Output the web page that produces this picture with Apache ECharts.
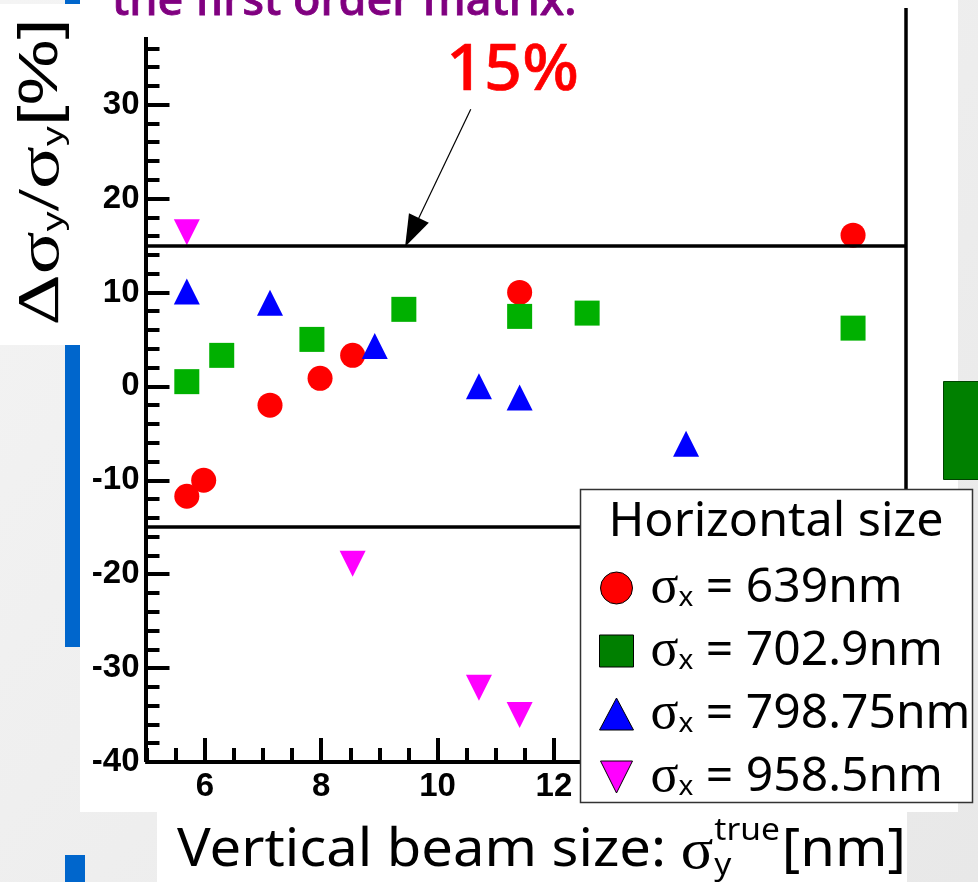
<!DOCTYPE html>
<html>
<head>
<meta charset="utf-8">
<script src="https://cdn.jsdelivr.net/npm/echarts@6/dist/echarts.min.js"></script>
<style>
  html, body { margin: 0; padding: 0; background: #eeeeee; }
  #chart { width: 978px; height: 882px; }
</style>
</head>
<body>
<div id="chart"></div>
<script>
// Axis ranges and tick labels
const xRange = [4.98, 18.05];
const yRange = [-40, 37.2];
const xMajorTicks = [6, 8, 10, 12, 14, 16, 18];
const yMajorTicks = [-40, -30, -20, -10, 0, 10, 20, 30];
const xMinorStep = 0.5;
const yMinorStep = 2;

// Relative error of the reconstructed vertical size, [sigma_y true (nm), delta (%)]
const sigmaX639 = [[5.69, -11.7], [5.98, -10.0], [7.12, -2.0], [7.98, 0.85], [8.54, 3.3], [11.41, 10.0], [17.14, 16.1]];
const sigmaX702 = [[5.69, 0.5], [6.29, 3.3], [7.84, 5.0], [9.42, 8.2], [11.41, 7.45], [12.57, 7.8], [17.14, 6.2]];
const sigmaX798 = [[5.69, 10.1], [7.12, 8.9], [8.92, 4.3], [10.71, 0.0], [11.41, -1.2], [14.27, -6.1]];
const sigmaX958 = [[5.69, 16.4], [8.54, -18.9], [10.71, -32.1], [11.41, -35.0]];

const seriesLabels = ['639nm', '702.9nm', '798.75nm', '958.5nm'];
const tolerance = 15;          // +/- band in percent
const arrowFrom = [10.57, 29.5];
const arrowTo = [9.56, 16.4];

const plotColors = ['#ff0000', '#00b000', '#0000ff', '#ff00ff'];
const legendColors = ['#ff0000', '#007f00', '#0000ff', '#ff00ff'];
const downTriangle = 'path://M0,0 L20,0 L10,20 Z';
const symbols = ['circle', 'rect', 'triangle', downTriangle];
const symbolSizes = [25, 25, 26, 26];

function stepList(from, to, step) {
  const out = [];
  for (let v = from; v <= to + 1e-9; v += step) out.push(Math.round(v * 100) / 100);
  return out;
}
const xMinorTicks = stepList(5, 18, xMinorStep);
const yMinorTicks = stepList(-40, 36, yMinorStep);

const chart = echarts.init(document.getElementById('chart'), null, { renderer: 'canvas' });

const names = seriesLabels.map(s => 'σx = ' + s);
const dataSets = [sigmaX639, sigmaX702, sigmaX798, sigmaX958];

function axisFont() {
  return { color: '#000', fontFamily: 'Liberation Sans', fontWeight: 'bold', fontSize: 33 };
}
function blackLine(w) { return { color: '#000', width: w, type: 'solid', cap: 'butt' }; }

function measure(text, font) {
  const c = document.createElement('canvas').getContext('2d');
  c.font = font;
  return c.measureText(text).width;
}

const series = dataSets.map((d, i) => ({
  name: names[i],
  type: 'scatter',
  data: d,
  symbol: symbols[i],
  symbolSize: symbolSizes[i],
  itemStyle: { color: plotColors[i], opacity: 1 },
  z: 3,
  animation: false
}));

// Band limits and the pointer to the upper limit
series.push({
  type: 'scatter',
  data: [],
  silent: true,
  animation: false,
  markLine: {
    silent: true,
    animation: false,
    symbol: 'none',
    label: { show: false },
    lineStyle: { color: '#000', width: 3.5, type: 'solid' },
    data: [
      { yAxis: tolerance },
      { yAxis: -tolerance },
      [
        { coord: arrowFrom, symbol: 'none', lineStyle: { width: 1.2, color: '#000', type: 'solid' } },
        { coord: arrowTo, symbol: 'path://M10,0 L20,30 L0,30 Z', symbolSize: [22, 32] }
      ]
    ]
  }
});

// Text pieces for the x-axis title (slightly widened lettering)
const xtScale = 1.08;
const xtMainFont = '52px "Noto Sans"';
const xtSigFont = '56px "Liberation Serif"';
const xtSmallFont = '31px "Noto Sans"';
const xt0 = 177;
const xtMain = 'Vertical beam size: ';
const xtSigX = xt0 + measure(xtMain, xtMainFont) * xtScale;
const xtSubX = xtSigX + measure('σ', xtSigFont) * xtScale + 1;
const xtTailX = xtSubX + Math.max(measure('true', xtSmallFont), measure('y', xtSmallFont)) * xtScale + 2;

const graphics = [
  // slide background pieces
  { type: 'rect', z: -10, silent: true, shape: { x: 0, y: 0, width: 978, height: 882 },
    style: { fill: new echarts.graphic.LinearGradient(0, 0, 1, 1, [{ offset: 0, color: '#f4f4f4' }, { offset: 1, color: '#e8e8e8' }]) } },
  { type: 'rect', z: -9, silent: true, shape: { x: 80, y: 0, width: 878, height: 812 }, style: { fill: '#ffffff' } },
  { type: 'rect', z: -9, silent: true, shape: { x: 0, y: 4, width: 80, height: 341 }, style: { fill: '#ffffff' } },
  { type: 'rect', z: -9, silent: true, shape: { x: 157, y: 812, width: 750, height: 70 }, style: { fill: '#ffffff' } },
  { type: 'rect', z: -8, silent: true, shape: { x: 65, y: 0, width: 15, height: 4 }, style: { fill: '#0066cc' } },
  { type: 'rect', z: -8, silent: true, shape: { x: 65, y: 345, width: 15, height: 302 }, style: { fill: '#0066cc' } },
  { type: 'rect', z: -8, silent: true, shape: { x: 65, y: 855, width: 20, height: 27 }, style: { fill: '#0066cc' } },
  { type: 'rect', z: -8, silent: true, shape: { x: 943.5, y: 381.5, width: 40, height: 98 }, style: { fill: '#008000', stroke: '#004400', lineWidth: 1 } },

  // slide heading, running off the top edge
  { type: 'text', z: 5, silent: true, x: 112, y: 2,
    style: { text: 'the first order matrix.', fill: '#800080', font: '500 45px "Noto Sans"', verticalAlign: 'middle', stroke: '#800080', lineWidth: 0.8 } },

  // band label
  { type: 'text', z: 5, silent: true, x: 446, y: 72, scaleX: 1.04,
    style: { text: '15%', fill: '#ff0000', font: '500 64px "Noto Sans"', verticalAlign: 'middle', stroke: '#ff0000', lineWidth: 0.6 } },

  // y-axis title
  { type: 'text', z: 5, silent: true, x: 42, y: 172, rotation: Math.PI / 2, scaleX: 1.33,
    style: {
      text: '{d|Δσ}{s|y}{d|/σ}{s|y}{b|[%]}',
      align: 'center', verticalAlign: 'middle', fill: '#000',
      rich: {
        d: { fontFamily: 'Liberation Serif', fontSize: 60, lineHeight: 64, fill: '#000' },
        b: { fontFamily: 'Liberation Sans', fontSize: 56, lineHeight: 64, fill: '#000' },
        s: { fontFamily: 'Liberation Sans', fontSize: 30, lineHeight: 30, padding: [26, 0, 0, 0], fill: '#000' }
      }
    } },

  // x-axis title
  { type: 'text', z: 5, silent: true, x: xt0, y: 851, scaleX: xtScale,
    style: { text: xtMain, fill: '#000', font: xtMainFont, verticalAlign: 'middle' } },
  { type: 'text', z: 5, silent: true, x: xtSigX, y: 853, scaleX: xtScale,
    style: { text: 'σ', fill: '#000', font: xtSigFont, verticalAlign: 'middle' } },
  { type: 'text', z: 5, silent: true, x: xtSubX, y: 866, scaleX: xtScale,
    style: { text: 'y', fill: '#000', font: xtSmallFont, verticalAlign: 'middle' } },
  { type: 'text', z: 5, silent: true, x: xtSubX, y: 831, scaleX: xtScale,
    style: { text: 'true', fill: '#000', font: xtSmallFont, verticalAlign: 'middle' } },
  { type: 'text', z: 5, silent: true, x: xtTailX, y: 851, scaleX: xtScale,
    style: { text: '[nm]', fill: '#000', font: xtMainFont, verticalAlign: 'middle' } },

  // legend frame and heading
  { type: 'rect', z: 50, silent: true, shape: { x: 580.5, y: 489.5, width: 392, height: 313 },
    style: { fill: '#ffffff', stroke: '#333333', lineWidth: 1.5 } },
  { type: 'text', z: 51, silent: true, x: 776, y: 523, scaleX: 1.03,
    style: { text: 'Horizontal size', fill: '#000', font: '47px "Noto Sans"', align: 'center', verticalAlign: 'middle' } }
];

const option = {
  backgroundColor: 'transparent',
  animation: false,
  grid: { left: 145.5, right: 72, top: 37, bottom: 120, containLabel: false },
  xAxis: [
    {
      type: 'value', min: xRange[0], max: xRange[1], position: 'bottom',
      axisLine: { show: true, onZero: false, lineStyle: blackLine(4) },
      axisTick: { show: true, inside: true, length: 24, lineStyle: blackLine(4), customValues: xMajorTicks },
      axisLabel: Object.assign({ show: true, margin: 8, customValues: xMajorTicks }, axisFont()),
      splitLine: { show: false }
    },
    {
      type: 'value', min: xRange[0], max: xRange[1], position: 'bottom',
      axisLine: { show: false, onZero: false },
      axisTick: { show: true, inside: true, length: 14, lineStyle: blackLine(4), customValues: xMinorTicks },
      axisLabel: { show: false },
      splitLine: { show: false }
    }
  ],
  yAxis: [
    {
      type: 'value', min: yRange[0], max: yRange[1], position: 'left',
      axisLine: { show: true, onZero: false, lineStyle: blackLine(4) },
      axisTick: { show: true, inside: true, length: 24, lineStyle: blackLine(4), customValues: yMajorTicks },
      axisLabel: Object.assign({ show: true, margin: 6, customValues: yMajorTicks }, axisFont()),
      splitLine: { show: false }
    },
    {
      type: 'value', min: yRange[0], max: yRange[1], position: 'left',
      axisLine: { show: false, onZero: false },
      axisTick: { show: true, inside: true, length: 14, lineStyle: blackLine(4), customValues: yMinorTicks },
      axisLabel: { show: false },
      splitLine: { show: false }
    }
  ],
  legend: {
    show: true,
    orient: 'vertical',
    left: 594,
    top: 557,
    z: 60,
    selectedMode: false,
    itemWidth: 34,
    itemHeight: 32,
    itemGap: 11,
    data: names.map((n, i) => ({
      name: n,
      icon: symbols[i],
      itemStyle: { color: legendColors[i], borderColor: '#000', borderWidth: 1 }
    })),
    formatter: n => '{g|σ}{sub|x}{t| = ' + n.slice(5) + '}',
    textStyle: {
      rich: {
        g: { fontFamily: 'Liberation Serif', fontSize: 52, lineHeight: 56, padding: [0, 0, 0, 12], color: '#000' },
        sub: { fontFamily: 'Noto Sans', fontSize: 28, lineHeight: 28, padding: [20, 0, 0, 0], color: '#000' },
        t: { fontFamily: 'Noto Sans', fontSize: 48, lineHeight: 56, color: '#000' }
      }
    }
  },
  graphic: graphics,
  series: series
};

chart.setOption(option);

// Right frame line, which runs up above the plotting area
const frameX = chart.convertToPixel({ xAxisIndex: 0 }, xRange[1]);
chart.setOption({
  graphic: graphics.concat([
    { type: 'line', z: 4, silent: true, shape: { x1: frameX, y1: 8, x2: frameX, y2: 490 },
      style: { stroke: '#000', lineWidth: 3.5 } }
  ])
});
</script>
</body>
</html>
